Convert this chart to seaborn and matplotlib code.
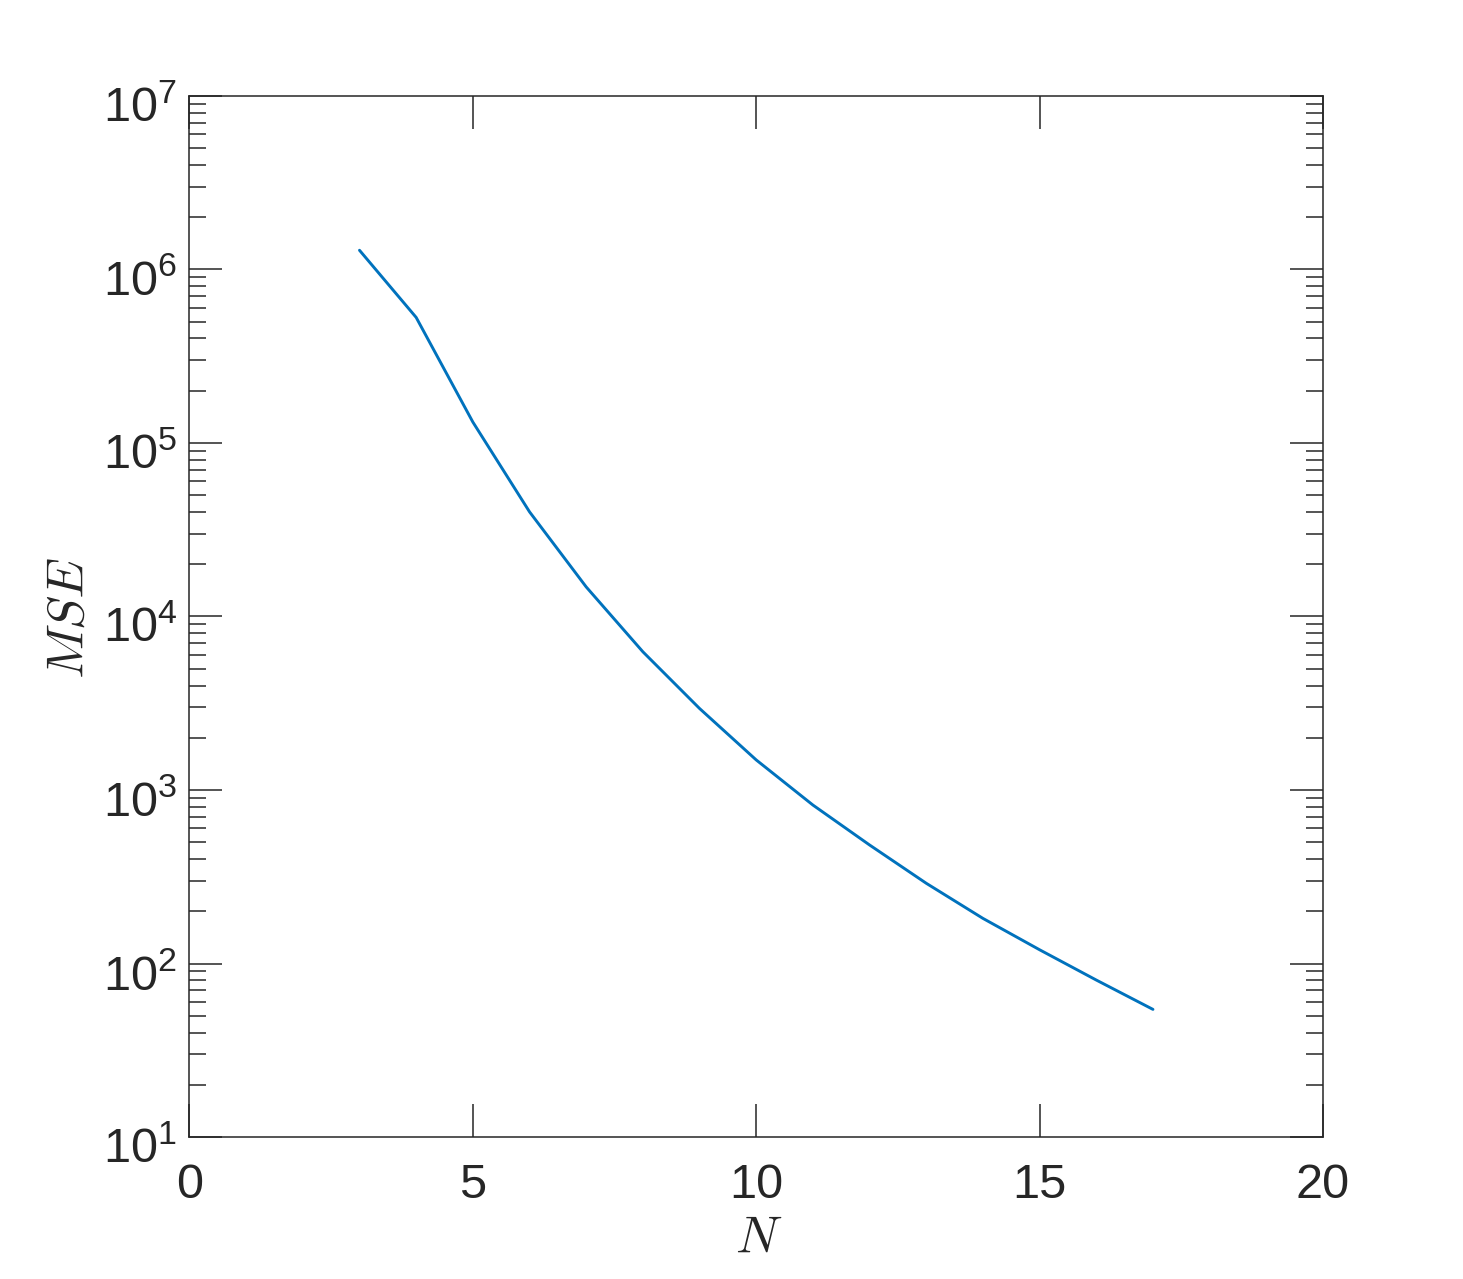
import matplotlib

matplotlib.use("Agg")
import matplotlib.pyplot as plt
import matplotlib.transforms as mtransforms
import numpy as np
import pandas as pd
import seaborn as sns
from matplotlib.ticker import LogLocator, NullFormatter, NullLocator

# values (log-scale y)
n_vals = [3, 4, 5, 6, 7, 8, 9, 10, 11, 12, 13, 14, 15, 16, 17]
mse_vals = [1.29e6, 5.29e5, 1.32e5, 4.01e4, 1.48e4, 6.26e3, 2.95e3, 1.49e3,
            819, 482, 290, 182, 120, 80.3, 54.4]
x_ticks = [0, 5, 10, 15, 20]

sns.set_style("ticks")
plt.rcParams["font.family"] = ["Liberation Sans", "DejaVu Sans"]
plt.rcParams["mathtext.default"] = "regular"

dark = "#262626"
df = pd.DataFrame({"N": n_vals, "MSE": mse_vals})

fig = plt.figure(figsize=(14.63, 12.79), dpi=100, facecolor="white")
ax = fig.add_axes([0.1295, 0.111, 0.7748, 0.814])
sns.lineplot(data=df, x="N", y="MSE", ax=ax, color="#0072BD", linewidth=2.1)
ax.set_yscale("log")
ax.set_xlim(0, 20)
ax.set_ylim(1e1, 1e7)
ax.set_xticks(x_ticks)
ax.xaxis.set_minor_locator(NullLocator())
ax.yaxis.set_major_locator(LogLocator(base=10, numticks=20))
ax.yaxis.set_minor_locator(LogLocator(base=10, subs=np.arange(2, 10), numticks=20))
ax.yaxis.set_minor_formatter(NullFormatter())

for s in ax.spines.values():
    s.set_visible(True)
    s.set_color(dark)
    s.set_linewidth(1.1)

ax.tick_params(which="both", direction="in", top=True, right=True, colors=dark,
               width=1.1, labelcolor=dark)
ax.tick_params(which="major", length=24, labelsize=35)
ax.tick_params(which="minor", length=12)
ax.tick_params(axis="x", which="major", pad=19)
ax.tick_params(axis="y", which="major", pad=9)

# MATLAB puts the "10" of each log label a bit below the tick
shift = mtransforms.ScaledTranslation(0, -8 / 100, fig.dpi_scale_trans)
for lbl in ax.get_yticklabels():
    lbl.set_transform(lbl.get_transform() + shift)

ax.set_xlabel("N", fontfamily="cmmi10", fontsize=37, color=dark, labelpad=6)
ax.set_ylabel("MSE", fontfamily="cmmi10", fontsize=37, color=dark, labelpad=8)

fig.savefig("out.png", dpi=100, facecolor="white")
plt.close(fig)
